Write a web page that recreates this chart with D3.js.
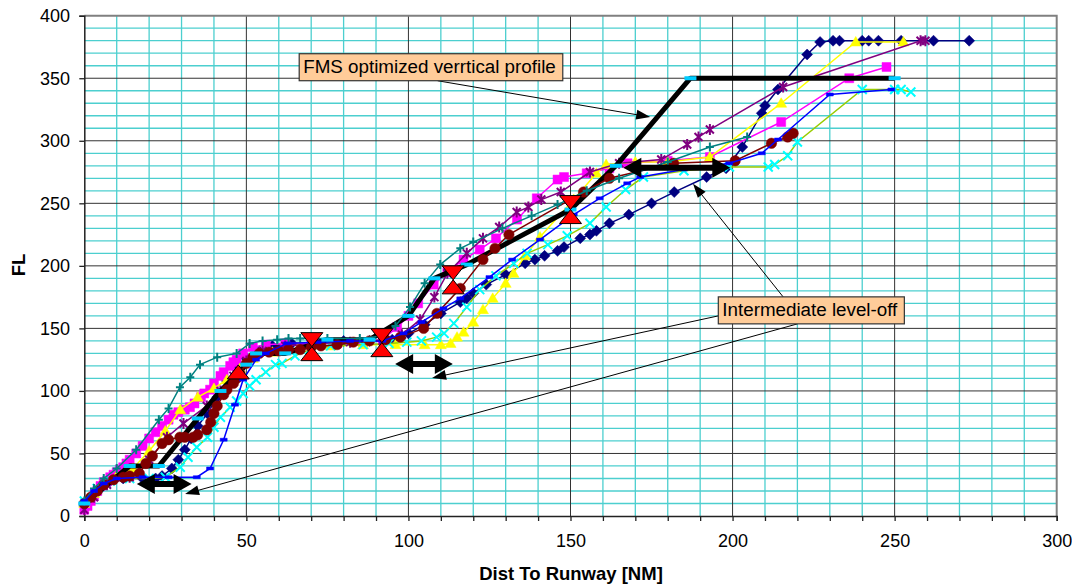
<!DOCTYPE html>
<html>
<head>
<meta charset="utf-8">
<script src="https://cdn.jsdelivr.net/npm/d3@7"></script>
<style>
  body { margin: 0; background: #fff; }
  svg { display: block; font-family: Arial, "Liberation Sans", sans-serif; }
</style>
</head>
<body>
<svg id="chart" width="1072" height="586"></svg>
<script>
// ---- data ----
const xTicks = [0, 50, 100, 150, 200, 250, 300];
const yTicks = [0, 50, 100, 150, 200, 250, 300, 350, 400];

const navyDiamond = [[0,8],[2,15],[5,22],[8,28],[12,30],[18,30],[22,30],[24,32],[27,38],[29,45],[31,53],[33,62],[35,72],[38,82],[41,95],[44,108],[47,118],[50,126],[54,132],[58,136],[64,138],[72,139],[80,140],[88,140],[95,141],[100,146],[105,153],[110,162],[116,171],[118,174],[120,178],[124,185],[130,193],[136,202],[139,205],[142,208],[146,212],[148,215],[153,222],[156,225],[158,228],[162,234],[168,241],[175,250],[182,259],[192,271],[198,278],[203,295],[209,322],[210,328],[214,341],[223,369],[227,379],[231,380],[233,380],[240,380],[242,380],[245,380],[252,380],[262,380],[273,380]];
const magentaSquare = [[0,5],[1,8],[2,12],[3,16],[4,20],[5,24],[6,27],[7,28],[8,31],[9,33],[10,35],[11,37],[12,39],[13,42],[14,45],[16,50],[18,56],[20,62],[22,67],[24,72],[26,77],[27.5,81],[29,83],[31,85],[32.6,87],[34,90],[36,95],[37,98],[38.8,101],[40,106],[42,112],[43,115],[45,120],[46,123],[47,125],[49,130],[52,135],[56,137],[62,138],[70,138],[78,138],[86,139],[92,141],[96.5,151],[100,160],[103,170],[107.8,185],[112,195],[117,205],[122,213],[127,222],[133.5,237],[139.6,254],[146,269],[148,271],[155,274],[162,278],[167.6,282],[180,284],[193,287],[215,315],[236,350],[247.5,359]];
const yellowTriangle = [[0,10],[3,18],[6,26],[10,32],[15,38],[20,52],[25,68],[29.6,85],[35,95],[40,102],[44,109],[48,118],[52,126],[58,131],[66,134],[76,136],[86,137],[96,137],[105,137],[110,137],[113,138],[115,143],[117,147],[120,155],[123,165],[126,174],[130,186],[132.4,194],[136,208],[140.6,223],[151,253],[158,274],[161,281],[170,283],[180,283],[193,287],[215,330],[238,379],[252.7,379]];
const cyanCross = [[0,12],[4,22],[8,28],[14,30],[20,30],[25,31],[29.6,39],[32,47],[34.7,55],[38,63],[40,71],[42,79],[45,87],[47,92],[49,98],[51,104],[53,109],[56,115],[59,121],[61,122],[65,128],[69.6,133],[76,136],[86,137],[94,138],[99.5,139],[104,140],[108.7,143],[111,146],[114,154],[118,167],[122,181],[127,192],[132.5,202],[136.6,210],[143,217],[149,224],[156,234],[161,247],[167,261],[172.5,271],[185,276],[199,279],[211,279],[213,281],[217,288],[220,299],[240,341],[250,341],[252,341],[255,339]];
const purpleStar = [[0,5],[3,15],[7,25],[14,31],[20,45],[25.5,63],[30.6,74],[37.8,88],[42,100],[46,112],[50,124],[55,132],[62,136],[72,138],[82,139],[92,140],[98,145],[103.6,157],[108,175],[112,194],[118,210],[123,222],[128,231],[133.4,243],[137,247],[141,253],[147,259],[156,275],[165,282],[178,285],[186,297],[189.5,303],[193,309],[215.6,343],[258,380],[259.5,380]];
const darkredCircle = [[0,10],[2,15],[4,20],[6,25],[9,29],[12,31],[14,32],[17,34],[19,42],[21,48],[24,58],[26,61],[29.5,63],[31,63],[33.6,63],[35,65],[37.8,69],[39,75],[40,82],[41,88],[43,97],[44,101],[46,106],[47,110],[48,114],[50,122],[52,127],[54,130],[57,131],[60,132],[63,133],[66.6,133],[70,135],[73,136],[78,137],[83,139],[88,140],[93,141],[97.5,143],[104.7,150],[108.8,162],[116,182],[123,205],[126.7,214],[131,225],[154,259],[162,270],[181.8,282],[200.8,284],[212,298],[217,303],[218.7,306]];
const tealPlus = [[0,12],[3,22],[6,30],[10,38],[16,53],[23,77],[26,86],[29.5,103],[32.7,111],[35.7,121],[41,127],[47,130],[51,138],[55,140],[59.5,141],[63,142],[66.6,142],[70,142],[75,142],[85,142],[92,144],[96,152],[100.5,167],[105,186],[109.8,201],[116,214],[120,219],[129,230],[138,240],[146,249],[155,260],[165,270],[180,283],[193,295],[204.5,303]];
const blueDash = [[0,12],[3,20],[6,26],[10,30],[18,31],[26,31],[34.7,31],[38.8,38],[43,61],[46.5,89],[49,109],[53,125],[56,130],[62.5,138],[72,139],[82,140],[92,140],[98.5,146],[104,155],[110.8,166],[116,174],[125,191],[132,205],[140.6,221],[151,241],[159,254],[167.5,266],[171.5,271],[185,277],[199,282],[209,290],[214,301],[230,337],[249,341]];
const fmsProfile = [[0,10],[14,40],[23,40],[35,78],[42,100],[50,121],[53,130],[62,130],[75,141],[88,141],[100,160],[108,190],[118,201],[150,245],[164,280],[187,350],[250,350]];

// level-off markers: apex of ▲ / ▼ at these points
const levelUp = [[47.5,120.8],[70.2,135.4],[91.8,138.6],[113.8,188.8],[150,245]];
const levelDown = [[70.2,135.4],[91.8,138.6],[113.8,188.8],[150,245]];
// black double arrows: [x1, x2, y]
const levelArrows = [[16.2,33.1,25.6],[95.9,113.7,121.6],[166.3,199.3,278.4]];

const notes = [
  { text: "FMS optimized verrtical profile", x: 66.3, y: 369.6,
    arrows: [[109, 348, 174.6, 319]] },
  { text: "Intermediate level-off", x: 195.6, y: 175.2,
    arrows: [[215.6, 175.2, 187.8, 265.6], [195.6, 160, 107.3, 110.4], [220, 153.6, 31.1, 17.6]] }
];

const series = [
  { data: navyDiamond, color: "#000080", marker: "diamond" },
  { data: magentaSquare, color: "#FF00FF", marker: "square" },
  { data: yellowTriangle, color: "#FFFF00", marker: "triangle" },
  { data: cyanCross, color: "#99CC00", mcolor: "#00FFFF", marker: "x" },
  { data: purpleStar, color: "#800080", marker: "star" },
  { data: darkredCircle, color: "#800000", marker: "circle" },
  { data: tealPlus, color: "#008080", marker: "plus" },
  { data: blueDash, color: "#0000FF", marker: "dash" }
];

// ---- layout ----
const svg = d3.select("#chart");
const plotL = 84.3, plotR = 1056.7, plotT = 15.7, plotB = 516;
const x = d3.scaleLinear().domain([0, 300]).range([plotL, plotR]);
const y = d3.scaleLinear().domain([0, 400]).range([plotB, plotT]);

// grid
const grid = svg.append("g");
d3.range(10, 300, 10).filter(v => v % 50).forEach(v => {
  grid.append("line").attr("x1", x(v)).attr("x2", x(v)).attr("y1", plotT).attr("y2", plotB)
    .attr("stroke", "#4ccfcf").attr("stroke-width", 1.3);
});
d3.range(10, 400, 10).filter(v => v % 50).forEach(v => {
  grid.append("line").attr("x1", plotL).attr("x2", plotR).attr("y1", y(v)).attr("y2", y(v))
    .attr("stroke", "#4ccfcf").attr("stroke-width", 1.3);
});
xTicks.slice(1, -1).forEach(v => {
  grid.append("line").attr("x1", x(v)).attr("x2", x(v)).attr("y1", plotT).attr("y2", plotB)
    .attr("stroke", "#333").attr("stroke-width", 1);
});
yTicks.slice(1, -1).forEach(v => {
  grid.append("line").attr("x1", plotL).attr("x2", plotR).attr("y1", y(v)).attr("y2", y(v))
    .attr("stroke", "#333").attr("stroke-width", 1);
});
// top/right border
svg.append("path").attr("d", `M${plotL},${plotT}H${plotR}V${plotB}`)
  .attr("fill", "none").attr("stroke", "#808080").attr("stroke-width", 2);

// axes
const xAxis = d3.axisBottom(x).tickValues(d3.range(0, 301, 10)).tickSize(5)
  .tickFormat(d => xTicks.includes(d) ? d : "");
const gx = svg.append("g").attr("transform", `translate(0,${plotB})`).call(xAxis);
gx.selectAll("text").attr("font-size", 18).attr("dy", "1.28em").attr("fill", "#000");
const yAxis = d3.axisLeft(y).tickValues(yTicks).tickSize(5);
const gy = svg.append("g").attr("transform", `translate(${plotL},0)`).call(yAxis);
gy.selectAll("text").attr("font-size", 18).attr("dx", "-0.35em").attr("fill", "#000");
[gx, gy].forEach(g => {
  g.select(".domain").attr("stroke", "#222").attr("stroke-width", 1.5);
  g.selectAll(".tick line").attr("stroke", "#222").attr("stroke-width", 1.3);
  g.attr("font-family", null);
});

svg.append("text").attr("x", 571).attr("y", 580).attr("text-anchor", "middle")
  .attr("font-size", 18.5).attr("font-weight", "bold").text("Dist To Runway [NM]");
svg.append("text").attr("transform", "translate(25,265) rotate(-90)").attr("text-anchor", "middle")
  .attr("font-size", 18.5).attr("font-weight", "bold").text("FL");

// markers
function markerPath(type) {
  switch (type) {
    case "diamond": return "M0,-5.5L5.5,0L0,5.5L-5.5,0Z";
    case "square": return "M-4.5,-4.5H4.5V4.5H-4.5Z";
    case "triangle": return "M0,-5.5L5.5,4L-5.5,4Z";
    case "x": return "M-4.5,-4.5L4.5,4.5M-4.5,4.5L4.5,-4.5";
    case "star": return "M-4,-4L4,4M-4,4L4,-4M0,-5.5V5.5";
    case "circle": return d3.symbol(d3.symbolCircle, 85)();
    case "plus": return "M-4,0H4M0,-4.5V4.5";
    case "dash": return "M-3.5,-1.5H3.5V1.5H-3.5Z";
  }
}
const strokeMarkers = ["x", "star", "plus"];
const line = d3.line().x(d => x(d[0])).y(d => y(d[1]));

function drawSeries(s) {
  const g = svg.append("g");
  g.append("path").attr("d", line(s.data)).attr("fill", "none")
    .attr("stroke", s.color).attr("stroke-width", 1.5);
  const mc = s.mcolor || s.color;
  const isStroke = strokeMarkers.includes(s.marker);
  g.selectAll("path.m").data(s.data).join("path").attr("class", "m")
    .attr("transform", d => `translate(${x(d[0])},${y(d[1])})`)
    .attr("d", markerPath(s.marker))
    .attr("fill", isStroke ? "none" : mc)
    .attr("stroke", mc).attr("stroke-width", isStroke ? 2 : 0.5);
}

series.slice(0, 5).forEach(drawSeries);

// FMS profile (thick black), sits under the later series
svg.append("path").attr("d", line(fmsProfile)).attr("fill", "none")
  .attr("stroke", "#000").attr("stroke-width", 5).attr("stroke-linejoin", "round");

series.slice(5).forEach(drawSeries);

svg.selectAll("rect.fms").data(fmsProfile).join("rect").attr("class", "fms")
  .attr("x", d => x(d[0]) - 6).attr("y", d => y(d[1]) - 2)
  .attr("width", 12).attr("height", 4).attr("fill", "#00CCFF");

// level-off triangles
svg.selectAll("path.up").data(levelUp).join("path").attr("class", "up")
  .attr("d", d => `M${x(d[0])},${y(d[1])}l11,14h-22Z`)
  .attr("fill", "#FF0000").attr("stroke", "#000").attr("stroke-width", 1);
svg.selectAll("path.dn").data(levelDown).join("path").attr("class", "dn")
  .attr("d", d => `M${x(d[0])},${y(d[1])}l11,-14h-22Z`)
  .attr("fill", "#FF0000").attr("stroke", "#000").attr("stroke-width", 1);

// double arrows
levelArrows.forEach(a => {
  const x1 = x(a[0]), x2 = x(a[1]), yy = y(a[2]);
  svg.append("path")
    .attr("d", `M${x1},${yy}L${x1 + 18},${yy - 10}V${yy - 3}H${x2 - 18}V${yy - 10}L${x2},${yy}L${x2 - 18},${yy + 10}V${yy + 3}H${x1 + 18}V${yy + 10}Z`)
    .attr("fill", "#000");
});

// annotations
notes.forEach(n => {
  n.arrows.forEach(a => {
    const x1 = x(a[0]), y1 = y(a[1]), x2 = x(a[2]), y2 = y(a[3]);
    const ang = Math.atan2(y2 - y1, x2 - x1);
    svg.append("line").attr("x1", x1).attr("y1", y1)
      .attr("x2", x2 - 10 * Math.cos(ang)).attr("y2", y2 - 10 * Math.sin(ang))
      .attr("stroke", "#000").attr("stroke-width", 1);
    svg.append("path")
      .attr("d", "M0,0L-14,-5L-14,5Z")
      .attr("transform", `translate(${x2},${y2}) rotate(${ang * 180 / Math.PI})`)
      .attr("fill", "#000");
  });
  const g = svg.append("g").attr("transform", `translate(${x(n.x)},${y(n.y)})`);
  const rect = g.append("rect").attr("fill", "#FFCC99").attr("stroke", "#333").attr("stroke-width", 1.2);
  const t = g.append("text").attr("x", 4).attr("y", 19.5).attr("font-size", 18.8).text(n.text);
  const w = t.node().getComputedTextLength();
  rect.attr("width", w + 11).attr("height", 27);
});
</script>
</body>
</html>
